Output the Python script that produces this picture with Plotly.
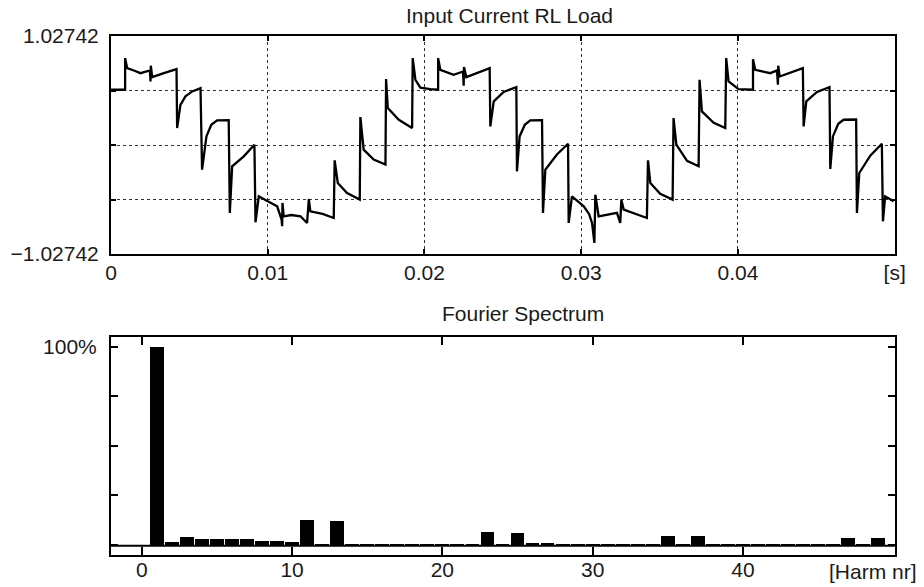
import plotly.graph_objects as go

# ---------------- data ----------------
time_s = [
    0.00000, 0.00086, 0.00090, 0.00090, 0.00103, 0.00150, 0.00188, 0.00248, 0.00252, 0.00254,
    0.00263, 0.00337, 0.00418, 0.00422, 0.00443, 0.00475, 0.00518, 0.00571, 0.00581, 0.00609,
    0.00640, 0.00677, 0.00751, 0.00758, 0.00773, 0.00847, 0.00915, 0.00922, 0.00943, 0.01000,
    0.01060, 0.01088, 0.01092, 0.01094, 0.01102, 0.01150, 0.01209, 0.01251, 0.01262, 0.01272,
    0.01350, 0.01421, 0.01427, 0.01447, 0.01506, 0.01587, 0.01591, 0.01612, 0.01676, 0.01751,
    0.01755, 0.01766, 0.01836, 0.01921, 0.01925, 0.01942, 0.01974, 0.02038, 0.02080,
    0.02087, 0.02087, 0.02101, 0.02186, 0.02246, 0.02250, 0.02252, 0.02267, 0.02335, 0.02416,
    0.02420, 0.02442, 0.02505, 0.02586, 0.02590, 0.02607, 0.02640, 0.02675, 0.02750, 0.02756,
    0.02771, 0.02845, 0.02916, 0.02920, 0.02941, 0.03016, 0.03050, 0.03069, 0.03084, 0.03090,
    0.03111, 0.03228, 0.03249, 0.03256, 0.03271, 0.03350, 0.03419, 0.03426, 0.03441, 0.03504,
    0.03583, 0.03589, 0.03607, 0.03675, 0.03749, 0.03755, 0.03770, 0.03845, 0.03919, 0.03925,
    0.03940, 0.04004, 0.04089,
    0.04096, 0.04096, 0.04110, 0.04206, 0.04249, 0.04255, 0.04257, 0.04266, 0.04334, 0.04414,
    0.04419, 0.04436, 0.04504, 0.04584, 0.04589, 0.04606, 0.04640, 0.04674, 0.04754, 0.04759,
    0.04774, 0.04844, 0.04918, 0.04925, 0.04939, 0.04993,
]
current = [
    0.521, 0.521, 0.521, 0.819, 0.725, 0.700, 0.677, 0.703, 0.599, 0.747,
    0.640, 0.677, 0.715, 0.160, 0.379, 0.458, 0.505, 0.536, -0.233, 0.081,
    0.190, 0.232, 0.235, -0.640, -0.201, -0.107, 0.003, -0.728, -0.484, -0.530,
    -0.578, -0.700, -0.766, -0.546, -0.672, -0.660, -0.672, -0.735, -0.509, -0.625,
    -0.650, -0.688, -0.145, -0.358, -0.452, -0.515, 0.263, -0.044, -0.138, -0.185,
    0.621, 0.348, 0.238, 0.160, 0.819, 0.615, 0.540, 0.527, 0.521,
    0.521, 0.819, 0.709, 0.662, 0.693, 0.558, 0.734, 0.640, 0.680, 0.725,
    0.175, 0.411, 0.500, 0.546, -0.248, 0.081, 0.190, 0.232, 0.235, -0.640,
    -0.233, -0.090, 0.012, -0.735, -0.484, -0.578, -0.650, -0.735, -0.923, -0.468,
    -0.672, -0.640, -0.735, -0.515, -0.609, -0.650, -0.688, -0.145, -0.358, -0.460,
    -0.515, 0.254, 0.003, -0.150, -0.201, 0.615, 0.317, 0.210, 0.160, 0.819,
    0.599, 0.527, 0.521,
    0.521, 0.809, 0.709, 0.677, 0.703, 0.568, 0.747, 0.646, 0.680, 0.725,
    0.175, 0.411, 0.500, 0.546, -0.226, 0.081, 0.200, 0.238, 0.240, -0.640,
    -0.264, -0.100, 0.012, -0.719, -0.484, -0.531,
]

y_limit = 1.02742
time_ticks = [0, 0.01, 0.02, 0.03, 0.04, 0.05]
time_tick_labels = ["0", "0.01", "0.02", "0.03", "0.04", "[s]"]
current_ticks = [-1.02742, -0.51371, 0.0, 0.51371, 1.02742]
current_tick_labels = ["\u22121.02742", "", "", "", "1.02742"]

harmonic_nr = list(range(1, 50))
spectrum_pct = [
    100, 1.9, 4.0, 3.4, 3.4, 3.0, 3.4, 2.2, 2.2, 1.9,
    13.0, 0.9, 12.3, 0.9, 0.4, 0.9, 0.9, 0.9, 0.9, 0.9,
    0.9, 0.9, 6.7, 0.2, 6.0, 1.0, 1.0, 0.2, 0.2, 0.2,
    0.9, 0.2, 0.9, 0.2, 4.6, 0.2, 4.6, 0.2, 0.9, 0.2,
    0.2, 0.2, 0.2, 0.2, 0.2, 0.2, 3.5, 0.2, 3.5,
]
harm_ticks = [0, 10, 20, 30, 40]
harm_tick_labels = ["0", "10", "20", "30", "40"]
pct_ticks = [0, 25, 50, 75, 100]
pct_tick_labels = ["", "", "", "", "100%"]

# ---------------- figure ----------------
W, H = 924, 587
FONT = dict(family="Liberation Sans, Arial, sans-serif", size=21, color="#1a1a1a")

fig = go.Figure()
fig.add_trace(go.Scatter(x=time_s, y=current, mode="lines",
                         line=dict(color="black", width=2.3),
                         xaxis="x", yaxis="y", hoverinfo="skip"))
fig.add_trace(go.Bar(x=harmonic_nr, y=spectrum_pct, width=0.92,
                     marker=dict(color="black", line=dict(width=0)),
                     xaxis="x2", yaxis="y2", hoverinfo="skip"))

xdom = [111 / W, 894.7 / W]
top_dom = [1 - 254 / H, 1 - 36 / H]
bot_dom = [1 - 555.3 / H, 1 - 336.7 / H]

axis_common = dict(showline=True, linecolor="black", linewidth=2, mirror="ticks",
                   ticks="inside", tickcolor="black", tickwidth=1.5,
                   zeroline=False, automargin=False, tickfont=FONT)

fig.update_layout(
    width=W, height=H,
    margin=dict(l=0, r=0, t=0, b=0),
    paper_bgcolor="white", plot_bgcolor="white",
    showlegend=False, font=FONT,
    xaxis=dict(domain=xdom, anchor="y", range=[0, 0.05],
               tickvals=time_ticks, ticktext=time_tick_labels, ticklen=5,
               showgrid=True, gridcolor="#333333", griddash="dot", gridwidth=1,
               ticklabelstandoff=-1, **axis_common),
    yaxis=dict(domain=top_dom, anchor="x", range=[-y_limit, y_limit],
               tickvals=current_ticks, ticktext=current_tick_labels, ticklen=5,
               showgrid=True, gridcolor="#333333", griddash="dot", gridwidth=1,
               ticklabelstandoff=6, **axis_common),
    xaxis2=dict(domain=xdom, anchor="y2", range=[-2.05, 50.1],
                tickvals=harm_ticks, ticktext=harm_tick_labels, ticklen=8,
                showgrid=False, ticklabelstandoff=-6, **axis_common),
    yaxis2=dict(domain=bot_dom, anchor="x2", range=[-5.2, 105],
                tickvals=pct_ticks, ticktext=pct_tick_labels, ticklen=7,
                showgrid=False, ticklabelstandoff=8, **axis_common),
    bargap=0,
)

fig.add_shape(type="line", xref="x2 domain", yref="y2", x0=0, x1=1, y0=-0.4, y1=-0.4,
              line=dict(color="black", width=2), layer="above")

fig.add_annotation(text="Input Current RL Load", xref="paper", yref="paper",
                   x=509 / W, y=1 - 15 / H, showarrow=False, font=FONT,
                   xanchor="center", yanchor="middle")
fig.add_annotation(text="Fourier Spectrum", xref="paper", yref="paper",
                   x=523 / W, y=1 - 313 / H, showarrow=False, font=FONT,
                   xanchor="center", yanchor="middle")
fig.add_annotation(text="[Harm nr]", xref="paper", yref="paper",
                   x=873 / W, y=1 - 571.5 / H, showarrow=False, font=FONT,
                   xanchor="center", yanchor="middle")

fig.write_html("out.html", config={"displayModeBar": False},
               post_script="document.body.style.margin='0px';")
